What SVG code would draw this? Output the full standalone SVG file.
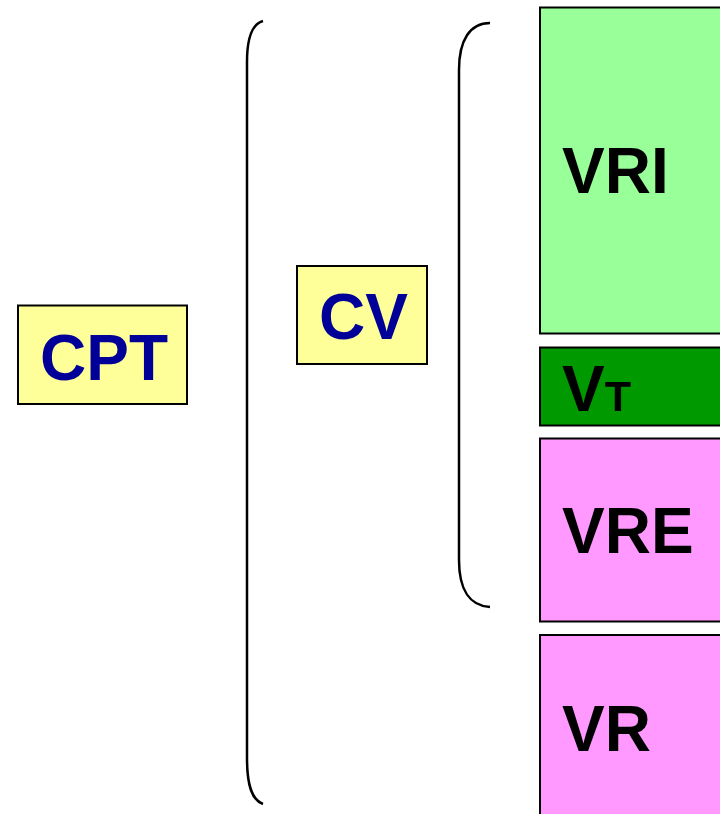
<svg xmlns="http://www.w3.org/2000/svg" width="720" height="814" viewBox="0 0 720 814">
<style>
.box{stroke:#000;stroke-width:2}
.y{fill:#FFFF99}
.lg{fill:#99FF99}
.dg{fill:#009900}
.pk{fill:#FF99FF}
.t{font-family:"Liberation Sans",Arial,sans-serif;font-weight:bold;font-size:64px}
.blue{fill:#000099}
.blk{fill:#000}
.br{fill:none;stroke:#000;stroke-width:2.5}
</style>
<rect width="720" height="814" fill="#fff"/>
<g id="connectors">
<path class="br" d="M263,21 C252,24 247,40 247,62 L247,758 C247,786 252,800 263,804"/>
<path class="br" d="M490,23 C470,23 459,40 459,70 L459,560 C459,590 470,606 490,607"/>
</g>
<g id="CPT">
<rect class="box y" x="18" y="305.5" width="169" height="98.5"/>
<text class="t blue" x="40" y="380">CPT</text>
</g>
<g id="CV">
<rect class="box y" x="297" y="266" width="130" height="98"/>
<text class="t blue" x="319" y="339">CV</text>
</g>
<g id="VRI">
<rect class="box lg" x="540" y="7.5" width="200" height="326"/>
<text class="t blk" x="562" y="193">VRI</text>
</g>
<g id="VT">
<rect class="box dg" x="540" y="347.5" width="200" height="78"/>
<text class="t blk" x="562" y="411">V<tspan font-size="43">T</tspan></text>
</g>
<g id="VRE">
<rect class="box pk" x="540" y="438.5" width="200" height="183"/>
<text class="t blk" x="562" y="553">VRE</text>
</g>
<g id="VR">
<rect class="box pk" x="540" y="635" width="200" height="200"/>
<text class="t blk" x="562" y="751">VR</text>
</g>
</svg>
